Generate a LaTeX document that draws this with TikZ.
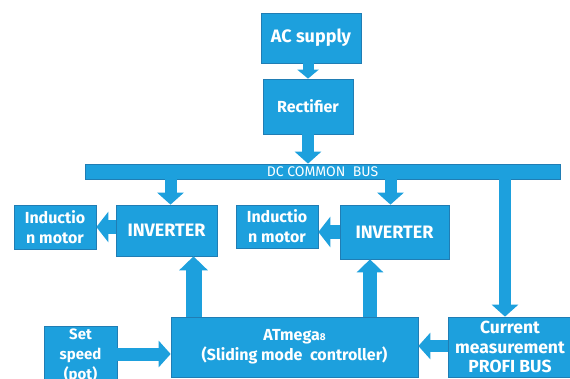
\documentclass[tikz,border=0pt]{standalone}
\usepackage{fontspec}
\setmainfont{Fira Sans}
\usetikzlibrary{arrows.meta,positioning,calc}
\definecolor{colBloc}{RGB}{29,160,221}
\definecolor{colBord}{RGB}{32,125,180}

\begin{document}
\begin{tikzpicture}[x=1pt,y=-1pt,
    bloc/.style={rectangle, draw=colBord, fill=colBloc, line width=0.7pt,
      align=center, text=white, inner sep=0pt,
      font=\bfseries\fontsize{16}{20}\selectfont},
    fl/.style={-{Triangle[length=12pt,width=26pt]}, line width=12pt,
      colBloc}]
    \useasboundingbox (0,0) rectangle (570,379);
    \clip (0,0) rectangle (570,379);
    % supply side
    \node[bloc, minimum width=100pt, minimum height=50pt,
      font=\bfseries\fontsize{18}{20}\selectfont] (ac) at (311,38) {AC supply};
    \node[bloc, minimum width=90pt, minimum height=55pt] (rect) at (308,106.5)
      {Rectifier};
    \node[bloc, minimum width=475pt, minimum height=15pt,
      font=\fontsize{14}{14}\selectfont] (bus) at (322.5,171.5)
      {DC COMMON\ \ BUS};
    % drives
    \node[bloc, minimum width=101pt, minimum height=51pt,
      font=\bfseries\fontsize{18}{20}\selectfont] (inv1) at (166.5,230.5)
      {INVERTER};
    \node[bloc, minimum width=82pt, minimum height=44pt] (mot1) at (55,227)
      {Inductio\\ n motor};
    \node[bloc, minimum width=109pt, minimum height=54pt,
      font=\bfseries\fontsize{18}{20}\selectfont] (inv2) at (394.5,232)
      {INVERTER};
    \node[bloc, minimum width=82pt, minimum height=43pt] (mot2) at (277,226.5)
      {Inductio\\ n motor};
    % control
    \node[bloc, minimum width=247pt, minimum height=60pt] (atm) at (294.5,347)
      {ATmega{\fontsize{10}{10}\selectfont 8}\\ (Sliding mode\ \ controller)};
    \node[bloc, minimum width=73pt, minimum height=60pt,
      font=\bfseries\fontsize{15}{20}\selectfont] (set) at (80.5,356)
      {Set\\ speed\\ (pot)};
    \node[bloc, minimum width=124pt, minimum height=60pt,
      font=\bfseries\fontsize{17.5}{19.5}\selectfont] (cur) at (510,347)
      {Current\\ measurement\\ PROFI BUS};
    % arrows
    \draw[fl, line width=11pt, -{Triangle[length=9pt,width=21pt]}]
      (rect.north |- ac.south) -- (rect.north);
    \draw[fl] (rect.south) -- (rect.south |- bus.north);
    \draw[fl] ([xshift=4pt]inv1.north |- bus.south) -- ([xshift=4pt]inv1.north);
    \draw[fl] ([xshift=-4pt]inv2.north |- bus.south) -- ([xshift=-4pt]inv2.north);
    \draw[fl] ([xshift=-5pt]cur.north |- bus.south) -- ([xshift=-5pt]cur.north);
    \draw[fl, line width=14pt, -{Triangle[length=12pt,width=30pt]}]
      (mot1.east -| inv1.west) -- (mot1.east);
    \draw[fl, line width=14pt, -{Triangle[length=12pt,width=30pt]}]
      (inv2.west) -- (inv2.west -| mot2.east);
    \draw[fl, line width=16pt, -{Triangle[length=14pt,width=28pt]}]
      ([xshift=27pt]inv1.south |- atm.north) -- ([xshift=27pt]inv1.south);
    \draw[fl, line width=14pt, -{Triangle[length=13pt,width=26pt]}]
      ([xshift=-24.5pt]inv2.south |- atm.north) -- ([xshift=-24.5pt]inv2.south);
    \draw[fl, line width=13pt] (set.east |- 0,354) -- (atm.west |- 0,354);
    \draw[fl] (cur.west |- 0,346) -- (atm.east |- 0,346);
\end{tikzpicture}
\end{document}
